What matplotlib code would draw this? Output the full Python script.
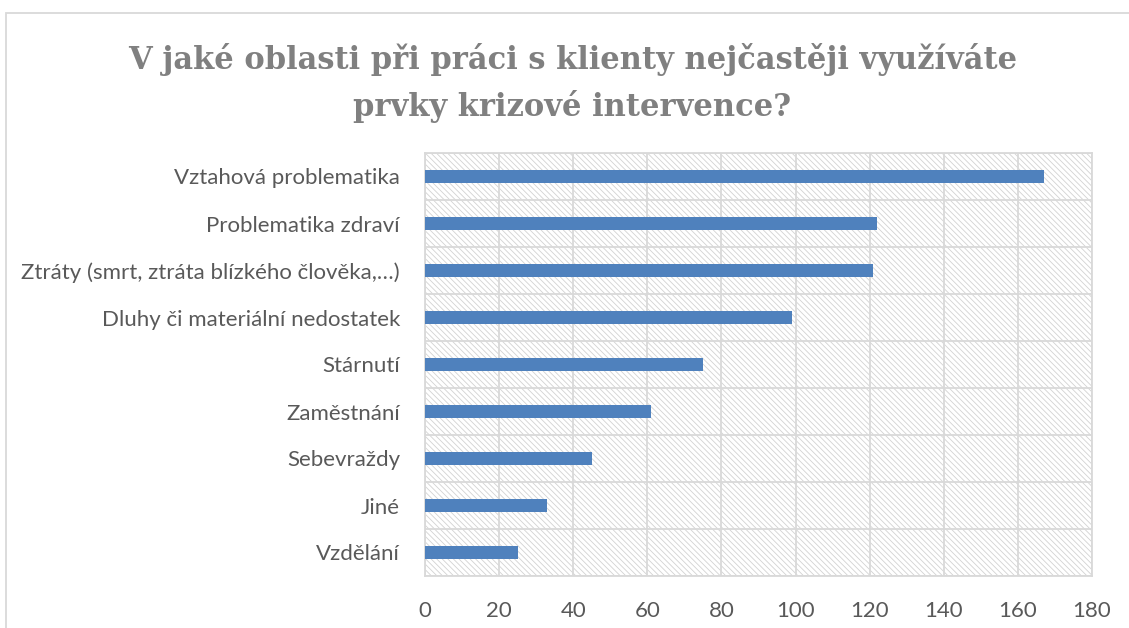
import numpy as np
import matplotlib
matplotlib.use("Agg")
import matplotlib.pyplot as plt
from matplotlib.patches import Rectangle

# data (top to bottom)
categories = [
    "Vztahová problematika",
    "Problematika zdraví",
    "Ztráty (smrt, ztráta blízkého člověka,…)",
    "Dluhy či materiální nedostatek",
    "Stárnutí",
    "Zaměstnání",
    "Sebevraždy",
    "Jiné",
    "Vzdělání",
]
counts = [167, 122, 121, 99, 75, 61, 45, 33, 25]
x_ticks = [0, 20, 40, 60, 80, 100, 120, 140, 160, 180]

title_lines = ["V jaké oblasti při práci s klienty nejčastěji využíváte",
               "prvky krizové intervence?"]

grid_col = "#d9d9d9"
text_col = "#595959"
bar_col = "#4f81bd"

plt.rcParams["hatch.linewidth"] = 0.6
plt.rcParams["hatch.color"] = "#d2d2d2"

fig = plt.figure(figsize=(11.29, 6.28), dpi=100)

# outer chart frame (runs off the right/bottom of the image)
fig.patches.append(Rectangle((6 / 1129, -0.1), 1.2, 1 - 13 / 628 + 0.1,
                             transform=fig.transFigure, fill=False,
                             edgecolor=grid_col, linewidth=1.3))

ax = fig.add_axes([425 / 1129, 1 - 576 / 628, (1092 - 425) / 1129, (576 - 153) / 628])

n = len(categories)
y = np.arange(n)[::-1]

ax.set_xlim(0, 180)
ax.set_ylim(-0.5, n - 0.5)

# hatched plot-area background
ax.add_patch(Rectangle((0, 0), 1, 1, transform=ax.transAxes, facecolor="white",
                       hatch="\\" * 6, edgecolor="#d2d2d2", linewidth=0, zorder=0))

ax.barh(y, counts, height=0.28, color=bar_col, zorder=3)

ax.set_xticks(x_ticks)
ax.set_yticks(y)
ax.set_yticklabels(categories)
ax.set_yticks(np.arange(-0.5, n), minor=True)

ax.grid(axis="x", which="major", color=grid_col, linewidth=1.3, zorder=1)
ax.grid(axis="y", which="minor", color=grid_col, linewidth=1.3, zorder=1)
ax.set_axisbelow(True)

for s in ax.spines.values():
    s.set_color(grid_col)
    s.set_linewidth(1.3)

ax.tick_params(axis="both", which="both", length=0, colors=text_col, labelsize=16)
ax.tick_params(axis="x", pad=18)
ax.tick_params(axis="y", pad=18)
for lbl in ax.get_xticklabels() + ax.get_yticklabels():
    lbl.set_fontfamily("Lato")

cx = 0.5 * (133 + 1012) / 1129
for line, yb in zip(title_lines, [69, 116]):
    fig.text(cx, 1 - yb / 628, line, ha="center", va="baseline",
             fontsize=22, fontweight="bold", color="#808080", family="DejaVu Serif")

fig.savefig("out.png", dpi=100)
